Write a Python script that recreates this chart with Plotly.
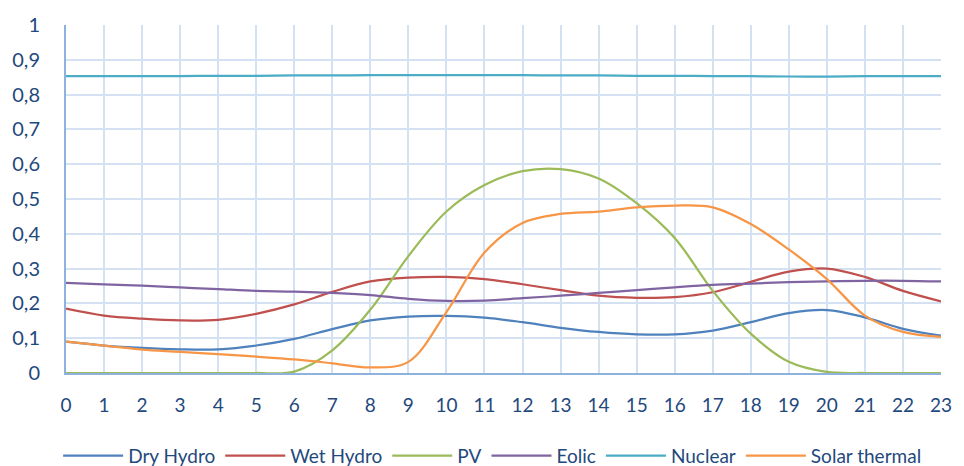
import plotly.graph_objects as go

hours = list(range(24))

dry_hydro = [0.090, 0.079, 0.072, 0.068, 0.068, 0.079, 0.098, 0.126, 0.151, 0.162, 0.164, 0.159,
             0.146, 0.130, 0.118, 0.111, 0.111, 0.122, 0.146, 0.172, 0.181, 0.160, 0.127, 0.107]
wet_hydro = [0.185, 0.165, 0.156, 0.151, 0.153, 0.170, 0.197, 0.233, 0.263, 0.274, 0.276, 0.270,
             0.255, 0.238, 0.222, 0.216, 0.218, 0.232, 0.262, 0.291, 0.300, 0.276, 0.236, 0.206]
pv = [0.0, 0.0, 0.0, 0.0, 0.0, 0.0, 0.004, 0.065, 0.182, 0.336, 0.464, 0.540,
      0.580, 0.586, 0.559, 0.488, 0.388, 0.236, 0.113, 0.032, 0.003, 0.0, 0.0, 0.0]
eolic = [0.259, 0.255, 0.251, 0.246, 0.241, 0.236, 0.234, 0.230, 0.224, 0.213, 0.207, 0.208,
         0.215, 0.222, 0.230, 0.238, 0.246, 0.253, 0.257, 0.261, 0.263, 0.265, 0.265, 0.263]
nuclear = [0.853, 0.853, 0.853, 0.853, 0.854, 0.854, 0.855, 0.855, 0.856, 0.856, 0.856, 0.856,
           0.856, 0.855, 0.855, 0.854, 0.854, 0.853, 0.853, 0.852, 0.852, 0.853, 0.853, 0.853]
solar_thermal = [0.090, 0.079, 0.067, 0.061, 0.054, 0.047, 0.039, 0.028, 0.016, 0.032, 0.175, 0.346,
                 0.431, 0.457, 0.464, 0.476, 0.481, 0.476, 0.428, 0.355, 0.270, 0.165, 0.118, 0.104]

series = [
    ("Dry Hydro", dry_hydro, "#4F81BD"),
    ("Wet Hydro", wet_hydro, "#C0504D"),
    ("PV", pv, "#9BBB59"),
    ("Eolic", eolic, "#8064A2"),
    ("Nuclear", nuclear, "#4BACC6"),
    ("Solar thermal", solar_thermal, "#F79646"),
]

y_tickvals = [0, 0.1, 0.2, 0.3, 0.4, 0.5, 0.6, 0.7, 0.8, 0.9, 1]
y_ticktext = ["0", "0,1", "0,2", "0,3", "0,4", "0,5", "0,6", "0,7", "0,8", "0,9", "1"]

text_color = "#1F497D"
grid_color = "#D3E1F3"
axis_color = "#8EB2DE"
font_family = "Lato"

fig = go.Figure()
for name, vals, color in series:
    fig.add_trace(go.Scatter(
        x=hours, y=vals, name=name, mode="lines",
        line=dict(color=color, width=2.25, shape="spline", smoothing=1),
    ))

fig.update_layout(
    width=964, height=466,
    margin=dict(l=63, r=15, t=22, b=93),
    paper_bgcolor="white", plot_bgcolor="white",
    font=dict(family=font_family, color=text_color, size=19),
    showlegend=True,
    legend=dict(
        orientation="h", xref="paper", x=0.487, xanchor="center",
        yref="container", y=0.022, yanchor="middle",
        font=dict(size=19, color=text_color, family=font_family),
        itemwidth=60, traceorder="normal",
    ),
)
fig.update_xaxes(
    range=[0, 23], tickmode="linear", tick0=0, dtick=1,
    showgrid=True, gridcolor=grid_color, gridwidth=1.5,
    showline=True, linecolor=axis_color, linewidth=2,
    ticks="", ticklabelstandoff=14, zeroline=False,
    tickfont=dict(size=19, color=text_color, family=font_family),
)
fig.update_yaxes(
    range=[0, 1], tickvals=y_tickvals, ticktext=y_ticktext,
    showgrid=True, gridcolor=grid_color, gridwidth=1.5,
    showline=True, linecolor=axis_color, linewidth=2,
    ticks="", ticklabelstandoff=20, zeroline=False,
    tickfont=dict(size=20, color=text_color, family=font_family),
)

fig.write_html("out.html")
